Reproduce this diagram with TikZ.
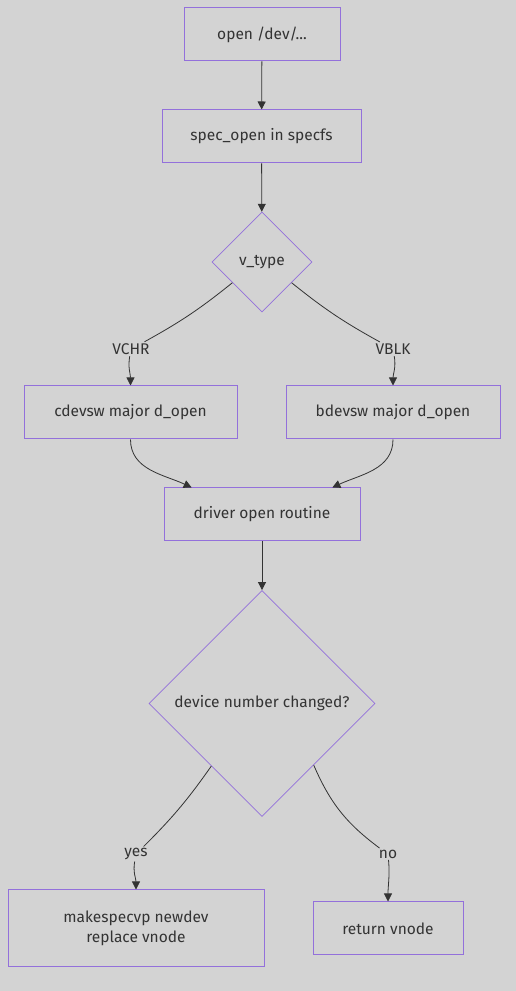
\documentclass[tikz,border=0pt]{standalone}
\usepackage{fontspec}
\setmainfont{Fira Sans}
\usetikzlibrary{shapes.geometric,arrows.meta}
\definecolor{bggray}{HTML}{D3D3D3}
\definecolor{nodeline}{HTML}{9370DB}
\definecolor{ink}{HTML}{333333}
\begin{document}
\begin{tikzpicture}[x=1pt,y=1pt,
  font=\fontsize{15.5}{18}\selectfont, text=ink,
  box/.style={draw=nodeline,fill=bggray,line width=1pt,rectangle,minimum height=53pt,inner sep=0pt,align=center},
  decision/.style={draw=nodeline,fill=bggray,line width=0.8pt,diamond,inner sep=0pt,minimum width=#1,minimum height=#1},
  lbl/.style={fill=bggray,inner sep=1.5pt},
  edge/.style={draw=ink,line width=0.8pt},
  arr/.style={edge,-{Triangle[length=8pt,width=8pt]}}]

\useasboundingbox[fill=bggray] (0,0) rectangle (516,991);

\node[box,minimum width=156pt] (open) at (262,956.5) {open /dev/...};
\node[box,minimum width=199pt] (spec) at (261.5,854.5) {spec\_open in specfs};
\node[decision=100pt] (vtype) at (262,729) {v\_type};
\node[box,minimum width=213pt] (cdev) at (130.5,578.5) {cdevsw major d\_open};
\node[box,minimum width=214pt] (bdev) at (393,578.5) {bdevsw major d\_open};
\node[box,minimum width=196pt] (drv) at (262,476.5) {driver open routine};
\node[decision=226pt] (dnc) at (262,287.5) {device number changed?};
\node[box,minimum width=256pt,minimum height=77pt] (mksp) at (136,62.5) {makespecvp newdev\\[2pt]replace vnode};
\node[box,minimum width=150pt] (ret) at (388,62.5) {return vnode};

\node[lbl] (chr) at (131,642) {VCHR};
\node[lbl] (blk) at (393,642) {VBLK};
\node[lbl] (yes) at (136,137) {yes};
\node[lbl] (no) at (388,137) {no};

\draw[arr] (open) -- (spec);
\draw[arr] (spec) -- (vtype);
\draw[edge] (vtype.215) to[bend left=5] (chr);
\draw[arr] (chr) to[out=-100,in=90] (cdev);
\draw[edge] (vtype.-35) to[bend right=5] (blk);
\draw[arr] (blk) to[out=-80,in=90] (bdev);
\draw[arr] (cdev.south) to[out=-90,in=155] (drv.159);
\draw[arr] (bdev.south) to[out=-90,in=25] (drv.21);
\draw[arr] (drv) -- (dnc);
\draw[edge] (dnc.231) to[bend left=5] (yes);
\draw[arr] (yes) to[out=-100,in=90] (mksp);
\draw[edge] (dnc.-50) to[bend right=15] (no);
\draw[arr] (no) to[out=-85,in=90] (ret);

\end{tikzpicture}
\end{document}
